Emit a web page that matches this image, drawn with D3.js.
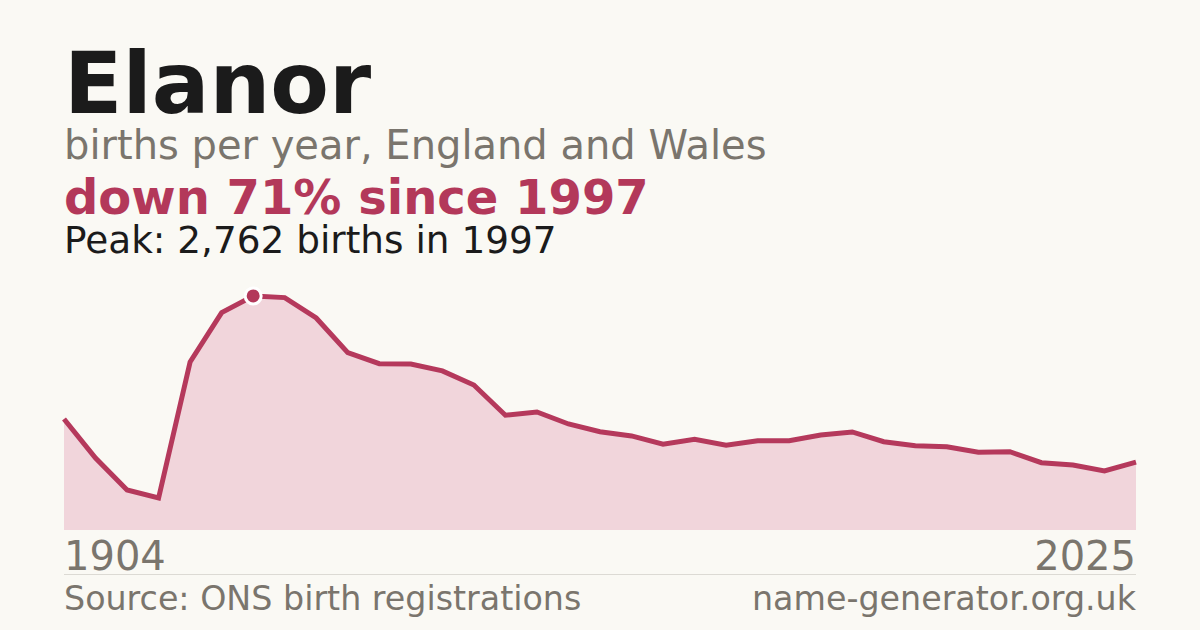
<!DOCTYPE html>
<html>
<head>
<meta charset="utf-8">
<script src="https://cdn.jsdelivr.net/npm/d3@7"></script>
<style>
  html, body { margin: 0; padding: 0; background: #faf9f4; }
  svg { display: block; font-family: "DejaVu Sans", sans-serif; }
</style>
</head>
<body>
<svg id="chart" width="1200" height="630"></svg>
<script>
// yearly births for the name, first point is 1904 then 1992..2025
const YEARS = [1904].concat(d3.range(1992, 2026));
const BIRTHS = [
    1310, 850, 472, 378, 1983, 2565, 2762, 2742, 2502, 2093,
    1963, 1959, 1877, 1711, 1354, 1393, 1251, 1160, 1110, 1012,
    1071, 1000, 1054, 1054, 1121, 1157, 1042, 995, 983, 917,
    924, 794, 767, 696, 800
];
const PEAK_YEAR = 1997;
const PEAK_VALUE = 2762;

const W = 1200, H = 630;
const margin = { left: 64, right: 64 };
const plotTop = 280, plotBottom = 530;

const svg = d3.select("#chart");
svg.append("rect").attr("width", W).attr("height", H).attr("fill", "#faf9f4");

// header texts
svg.append("text").attr("x", 64).attr("y", 113)
    .attr("font-size", 85.5).attr("font-weight", "bold").attr("fill", "#1b1b1b")
    .text("Elanor");
svg.append("text").attr("x", 64).attr("y", 159)
    .attr("font-size", 40).attr("fill", "#7a756d")
    .text("births per year, England and Wales");
svg.append("text").attr("x", 64).attr("y", 214)
    .attr("font-size", 48).attr("font-weight", "bold").attr("fill", "#b3385a")
    .text(`down ${Math.round((1 - BIRTHS[BIRTHS.length - 1] / PEAK_VALUE) * 100)}% since ${PEAK_YEAR}`);
svg.append("text").attr("x", 64).attr("y", 253)
    .attr("font-size", 37.4).attr("fill", "#1b1b1b")
    .text(`Peak: ${d3.format(",")(PEAK_VALUE)} births in ${PEAK_YEAR}`);

// scales - x by position, not by year
const x = d3.scalePoint()
    .domain(YEARS)
    .range([margin.left, W - margin.right]);
const y = d3.scaleLinear()
    .domain([0, 2950])
    .range([plotBottom, plotTop]);

const data = YEARS.map((yr, i) => ({ year: yr, value: BIRTHS[i] }));

svg.append("path")
    .datum(data)
    .attr("fill", "#f1d5db")
    .attr("d", d3.area().x(d => x(d.year)).y0(plotBottom).y1(d => y(d.value)));

svg.append("path")
    .datum(data)
    .attr("fill", "none")
    .attr("stroke", "#b5395c")
    .attr("stroke-width", 5)
    .attr("d", d3.line().x(d => x(d.year)).y(d => y(d.value)));

// peak marker
svg.append("circle")
    .attr("cx", x(PEAK_YEAR)).attr("cy", y(PEAK_VALUE))
    .attr("r", 8).attr("fill", "#b3385a")
    .attr("stroke", "#ffffff").attr("stroke-width", 3);

// x end labels
svg.append("text").attr("x", 64).attr("y", 570)
    .attr("font-size", 40).attr("fill", "#7a756d")
    .text(YEARS[0]);
svg.append("text").attr("x", W - 64).attr("y", 570)
    .attr("font-size", 40).attr("fill", "#7a756d").attr("text-anchor", "end")
    .text(YEARS[YEARS.length - 1]);

svg.append("line")
    .attr("x1", 64).attr("x2", W - 64).attr("y1", 574.5).attr("y2", 574.5)
    .attr("stroke", "#dcdad4").attr("stroke-width", 1);

// footer
svg.append("text").attr("x", 64).attr("y", 610)
    .attr("font-size", 33.3).attr("fill", "#7a756d")
    .text("Source: ONS birth registrations");
svg.append("text").attr("x", W - 64).attr("y", 610)
    .attr("font-size", 33.3).attr("fill", "#7a756d").attr("text-anchor", "end")
    .text("name-generator.org.uk");
</script>
</body>
</html>
